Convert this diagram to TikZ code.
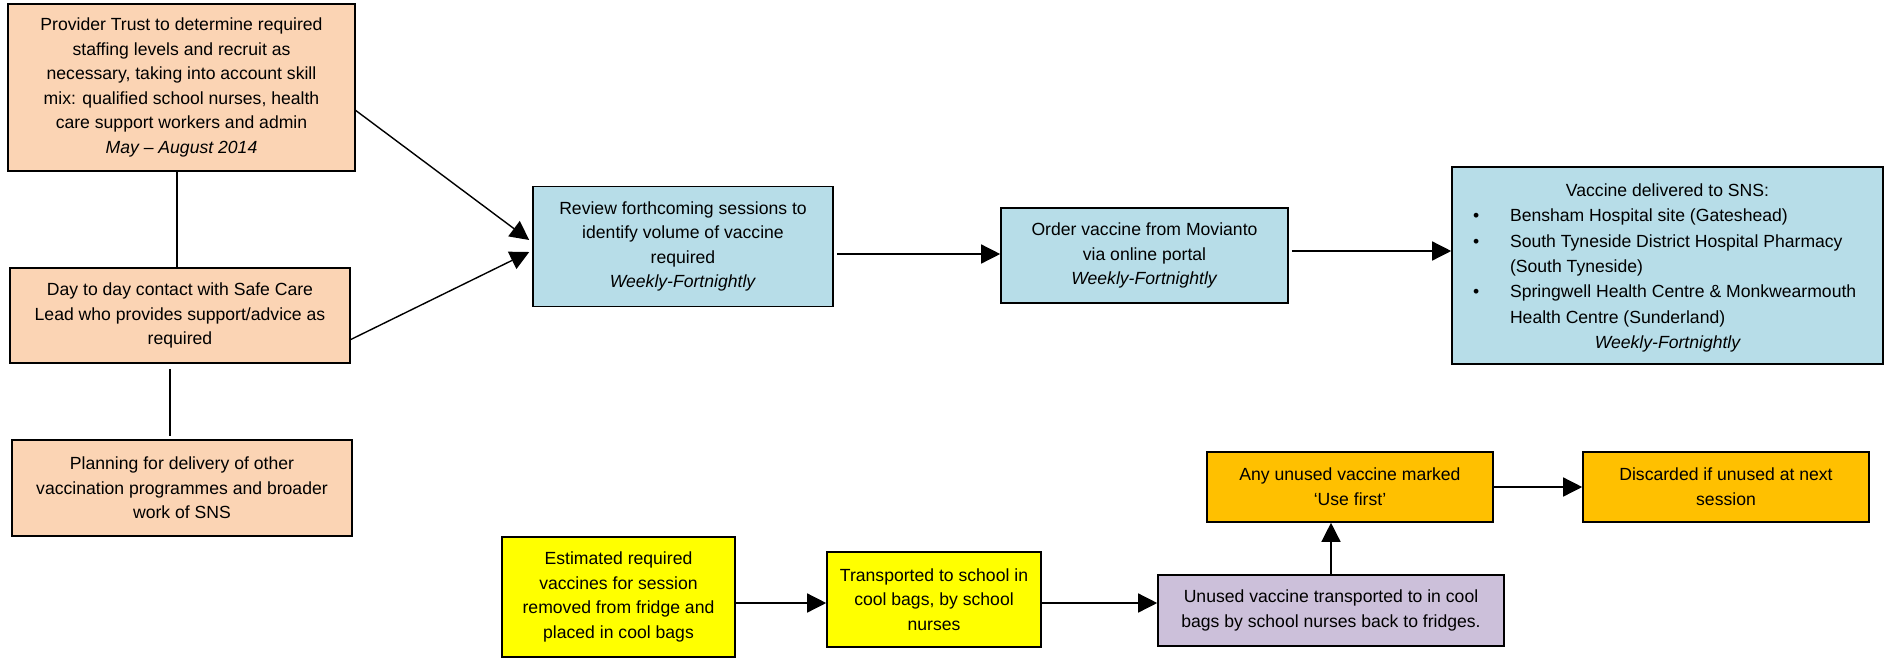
\documentclass[tikz,border=0pt]{standalone}
\usepackage{fontspec}
\setmainfont{Liberation Sans}
\usetikzlibrary{arrows.meta}
\definecolor{peach}{HTML}{FBD4B4}
\definecolor{paleblue}{HTML}{B7DDE8}
\definecolor{brightyellow}{HTML}{FFFF00}
\definecolor{amber}{HTML}{FFC000}
\definecolor{lilac}{HTML}{CCC0DA}
\newcommand{\bodyfont}{\fontsize{17.6}{24.6}\selectfont}
\newcommand{\bul}{\hspace*{21pt}\makebox[37pt][l]{\textbullet}}
\begin{document}
\begin{tikzpicture}[x=1pt,y=-1pt,
  box/.style={draw=black, line width=1.6pt, align=center, inner sep=0pt, font=\bodyfont},
  flow/.style={line width=1.4pt, -{Triangle[length=19pt,width=19pt]}},
  link/.style={line width=1.8pt}]
\useasboundingbox (0,0) rectangle (1885,659);

% planning column
\node[box, fill=peach, minimum width=347pt, minimum height=167pt] (A) at (181.5,87.5)
  {Provider Trust to determine required\\staffing levels and recruit as\\necessary, taking into account skill\\mix: qualified school nurses, health\\care support workers and admin\\\textit{May – August 2014}};
\node[box, fill=peach, minimum width=340pt, minimum height=95pt] (B) at (180,315.5)
  {Day to day contact with Safe Care\\Lead who provides support/advice as\\required};
\node[box, fill=peach, minimum width=340pt, minimum height=96pt] (C) at (182,488)
  {Planning for delivery of other\\vaccination programmes and broader\\work of SNS};

% ordering row
\node[box, fill=paleblue, minimum width=300pt, minimum height=120pt] (D) at (683,246.5)
  {Review forthcoming sessions to\\identify volume of vaccine\\required\\\textit{Weekly-Fortnightly}};
\node[box, fill=paleblue, minimum width=287pt, minimum height=95pt] (E) at (1144.5,255.5)
  {Order vaccine from Movianto\\via online portal\\\textit{Weekly-Fortnightly}};
\node[draw=black, line width=1.6pt, inner sep=0pt, fill=paleblue, minimum width=431pt, minimum height=197pt] (F) at (1667.5,265.5)
  {\parbox[c][197pt][t]{431pt}{\fontsize{17.6}{25.3}\selectfont
   \rule{0pt}{29.5pt}\makebox[431pt]{Vaccine delivered to SNS:}\\
   \bul Bensham Hospital site (Gateshead)\\
   \bul South Tyneside District Hospital Pharmacy\\
   \hspace*{58pt}(South Tyneside)\\
   \bul Springwell Health Centre \& Monkwearmouth\\
   \hspace*{58pt}Health Centre (Sunderland)\\
   \makebox[431pt]{\itshape Weekly-Fortnightly}}};

% session row
\node[box, fill=brightyellow, minimum width=233pt, minimum height=120pt] (G) at (618.5,597)
  {Estimated required\\vaccines for session\\removed from fridge and\\placed in cool bags};
\node[box, fill=brightyellow, minimum width=214pt, minimum height=95pt] (H) at (934,599.5)
  {Transported to school in\\cool bags, by school\\nurses};
\node[box, fill=lilac, minimum width=346pt, minimum height=71pt] (I) at (1331,610.5)
  {Unused vaccine transported to in cool\\bags by school nurses back to fridges.};
\node[box, fill=amber, minimum width=286pt, minimum height=70pt] (J) at (1350,487)
  {Any unused vaccine marked\\‘Use first’};
\node[box, fill=amber, minimum width=286pt, minimum height=70pt] (K) at (1726,487)
  {Discarded if unused at next\\session};

% connectors
\draw[link] ([xshift=-4.5pt]A.south) -- ([xshift=-4.5pt]A.south |- B.north);
\draw[link, shorten <=5pt, shorten >=3pt] ([xshift=-10pt]B.south) -- ([xshift=-10pt]B.south |- C.north);
\draw[flow] ([yshift=-23pt]A.east) -- ([yshift=6.5pt,xshift=-3pt]D.west);
\draw[flow] ([yshift=-24pt]B.east) -- ([yshift=-5.5pt,xshift=-3pt]D.west);
\draw[flow] ([xshift=3pt,yshift=1.5pt]E.west -| D.east) -- ([yshift=1.5pt]E.west);
\draw[flow] ([xshift=3pt,yshift=4.5pt]E.east) -- ([yshift=4.5pt]E.east -| F.west);
\draw[flow] ([yshift=-3.5pt]H.west -| G.east) -- ([yshift=-3.5pt]H.west);
\draw[flow] ([yshift=-3.5pt]H.east) -- ([yshift=-3.5pt]H.east -| I.west);
\draw[flow] (I.north) -- (I.north |- J.south);
\draw[flow] (J.east) -- (K.west);
\end{tikzpicture}
\end{document}
